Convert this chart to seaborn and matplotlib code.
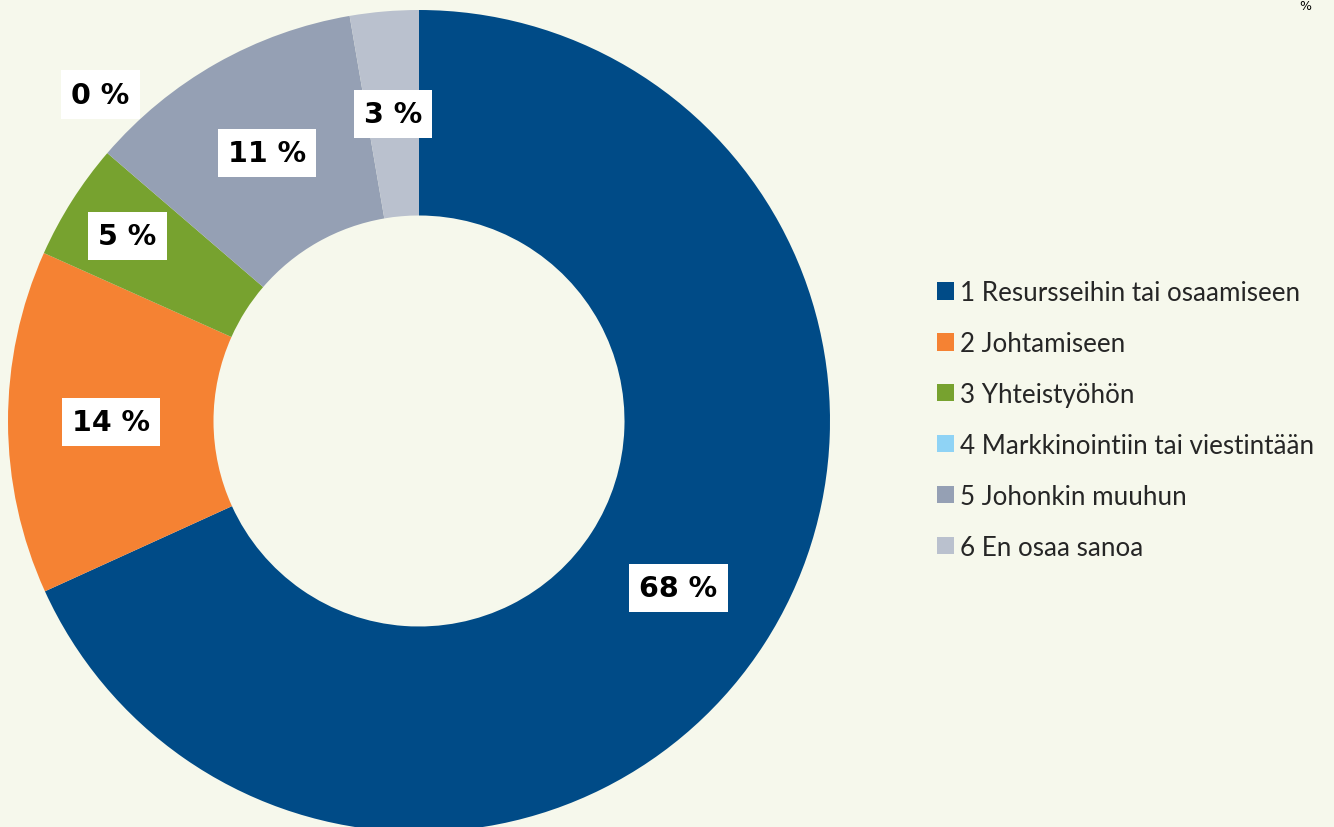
import numpy as np
import matplotlib
matplotlib.use("Agg")
import matplotlib.pyplot as plt
from matplotlib.patches import Patch
import seaborn as sns

categories = ["1 Resursseihin tai osaamiseen", "2 Johtamiseen", "3 Yhteistyöhön",
              "4 Markkinointiin tai viestintään", "5 Johonkin muuhun", "6 En osaa sanoa"]
values = [68.2, 13.5, 4.6, 0.0, 11.0, 2.7]
colors = ["#004B87", "#F58233", "#77A22F", "#8FD3F5", "#95A0B4", "#BAC1CE"]
label_radius = [0.75, 0.75, 0.84, 1.11, 0.75, 0.75]
label_angle_shift = [0, 0, 0, -5, 0, 0]

BG = "#F6F8EC"
sns.set_theme(style="white")
plt.rcParams["font.family"] = ["DejaVu Sans"]

W, H = 1334, 828
fig = plt.figure(figsize=(W / 100, H / 100), dpi=100, facecolor=BG)
cx, cy, R = 419, 422, 411
ax = fig.add_axes([(cx - R) / W, (H - cy - R) / H, 2 * R / W, 2 * R / H])
ax.set_facecolor(BG)
ax.patch.set_alpha(0)

wedges, _ = ax.pie(values, colors=sns.color_palette(colors), startangle=90, counterclock=False,
                   radius=1.0, wedgeprops=dict(width=0.5, linewidth=0))
ax.set_xlim(-1, 1)
ax.set_ylim(-1, 1)
ax.set_aspect("equal")
ax.axis("off")

for w, v, r, da in zip(wedges, values, label_radius, label_angle_shift):
    ang = np.deg2rad((w.theta1 + w.theta2) / 2 + da)
    x, y = r * np.cos(ang), r * np.sin(ang)
    ax.text(x, y, f"{v:.0f} %", ha="center", va="center", fontsize=20.5, fontweight="bold",
            color="black", family="DejaVu Sans",
            bbox=dict(boxstyle="square,pad=0.36", facecolor="white", edgecolor="none"))

handles = [Patch(facecolor=c, edgecolor="none") for c in colors]
fs = 18.7
fig.legend(handles, categories, loc="upper left", bbox_to_anchor=(937 / W, (H - 281) / H),
           frameon=False, prop={"family": "Lato", "size": fs},
           handlelength=0.65, handleheight=0.65, handletextpad=0.25, labelspacing=1.0,
           borderpad=0, borderaxespad=0)

fig.text(1305 / W, 1.0, "%", ha="center", va="top", fontsize=9, color="black")

fig.savefig("out.png", dpi=100, facecolor=BG)
